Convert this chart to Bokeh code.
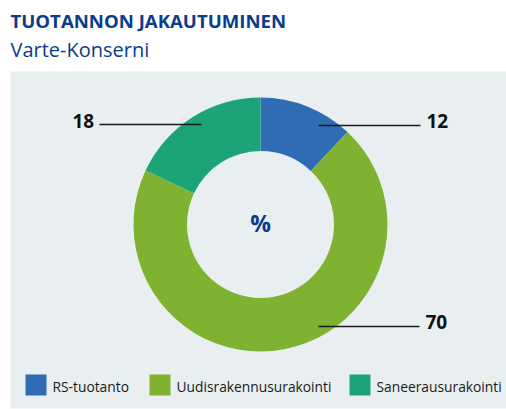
import math
from bokeh.plotting import figure
from bokeh.models import Range1d
from bokeh.core.properties import value
from bokeh.embed import file_html
from bokeh.resources import INLINE

# ---- data ----
title = "TUOTANNON JAKAUTUMINEN"
subtitle = "Varte-Konserni"
categories = ["RS-tuotanto", "Uudisrakennusurakointi", "Saneerausurakointi"]
shares = [12, 70, 18]
colors = ["#2f6cb3", "#7fb230", "#1ca478"]
center_label = "%"

W, H = 506, 409
REF_H = 409
DY = 6  # baseline correction

def Y(y):  # reference (top-down) -> data (bottom-up)
    return REF_H - y

p = figure(width=W, height=H, output_backend="svg", toolbar_location=None,
           x_range=Range1d(0, W), y_range=Range1d(0, H),
           min_border=0, outline_line_color=None,
           background_fill_color="white", border_fill_color="white")
p.axis.visible = False
p.grid.visible = False

# panel
p.quad(left=10, right=520, top=Y(71), bottom=Y(408), fill_color="#e9eff0", line_color=None)

# titles
p.text(x=[10], y=[Y(26 - DY)], text=[title], text_font=value("Open Sans"), text_font_style="bold",
       text_font_size="18.6px", text_color="#0a3c8c", text_baseline="alphabetic")
p.text(x=[10], y=[Y(55 - DY)], text=[subtitle], text_font=value("Open Sans"),
       text_font_size="20px", text_color="#0a3c8c", text_baseline="alphabetic")

# donut
cx, cy = 260, Y(224)
total = sum(shares)
starts, ends = [], []
acc = 0.0
for v in shares:
    a0 = math.pi / 2 - 2 * math.pi * acc / total
    acc += v
    a1 = math.pi / 2 - 2 * math.pi * acc / total
    starts.append(a0)
    ends.append(a1)
p.annular_wedge(x=cx, y=cy, inner_radius=73.5, outer_radius=127,
                start_angle=starts, end_angle=ends, direction="clock",
                fill_color=colors, line_color=None)

p.text(x=[cx], y=[cy + 2], text=[center_label], text_font=value("Open Sans"), text_font_style="bold",
       text_font_size="23px", text_color="#0a3c8c", text_align="center", text_baseline="middle")

# value labels with leader lines
lab_x = [426, 425, 72]
lab_y = [126, 327, 126]
line_x0 = [318, 318, 99]
line_x1 = [420, 419, 201]
line_y = [125, 326, 124]
p.segment(x0=line_x0, y0=[Y(v) for v in line_y], x1=line_x1, y1=[Y(v) for v in line_y],
          line_color="#1a1a1a", line_width=1.3)
p.text(x=lab_x, y=[Y(v - DY) for v in lab_y], text=[str(v) for v in shares],
       text_font=value("Open Sans"), text_font_style="bold", text_font_size="19px",
       text_color="#111111", text_baseline="alphabetic")

# legend
sq_x = [25, 149, 349]
p.quad(left=sq_x, right=[x + 21 for x in sq_x], top=Y(374), bottom=Y(395),
       fill_color=colors, line_color=None)
p.text(x=[x + 27 for x in sq_x], y=Y(391 - DY + 1), text=categories, text_font=value("Open Sans"),
       text_font_size="13.8px", text_color="#1a1a1a", text_baseline="alphabetic")

open("out.html", "w").write(file_html(p, INLINE))
